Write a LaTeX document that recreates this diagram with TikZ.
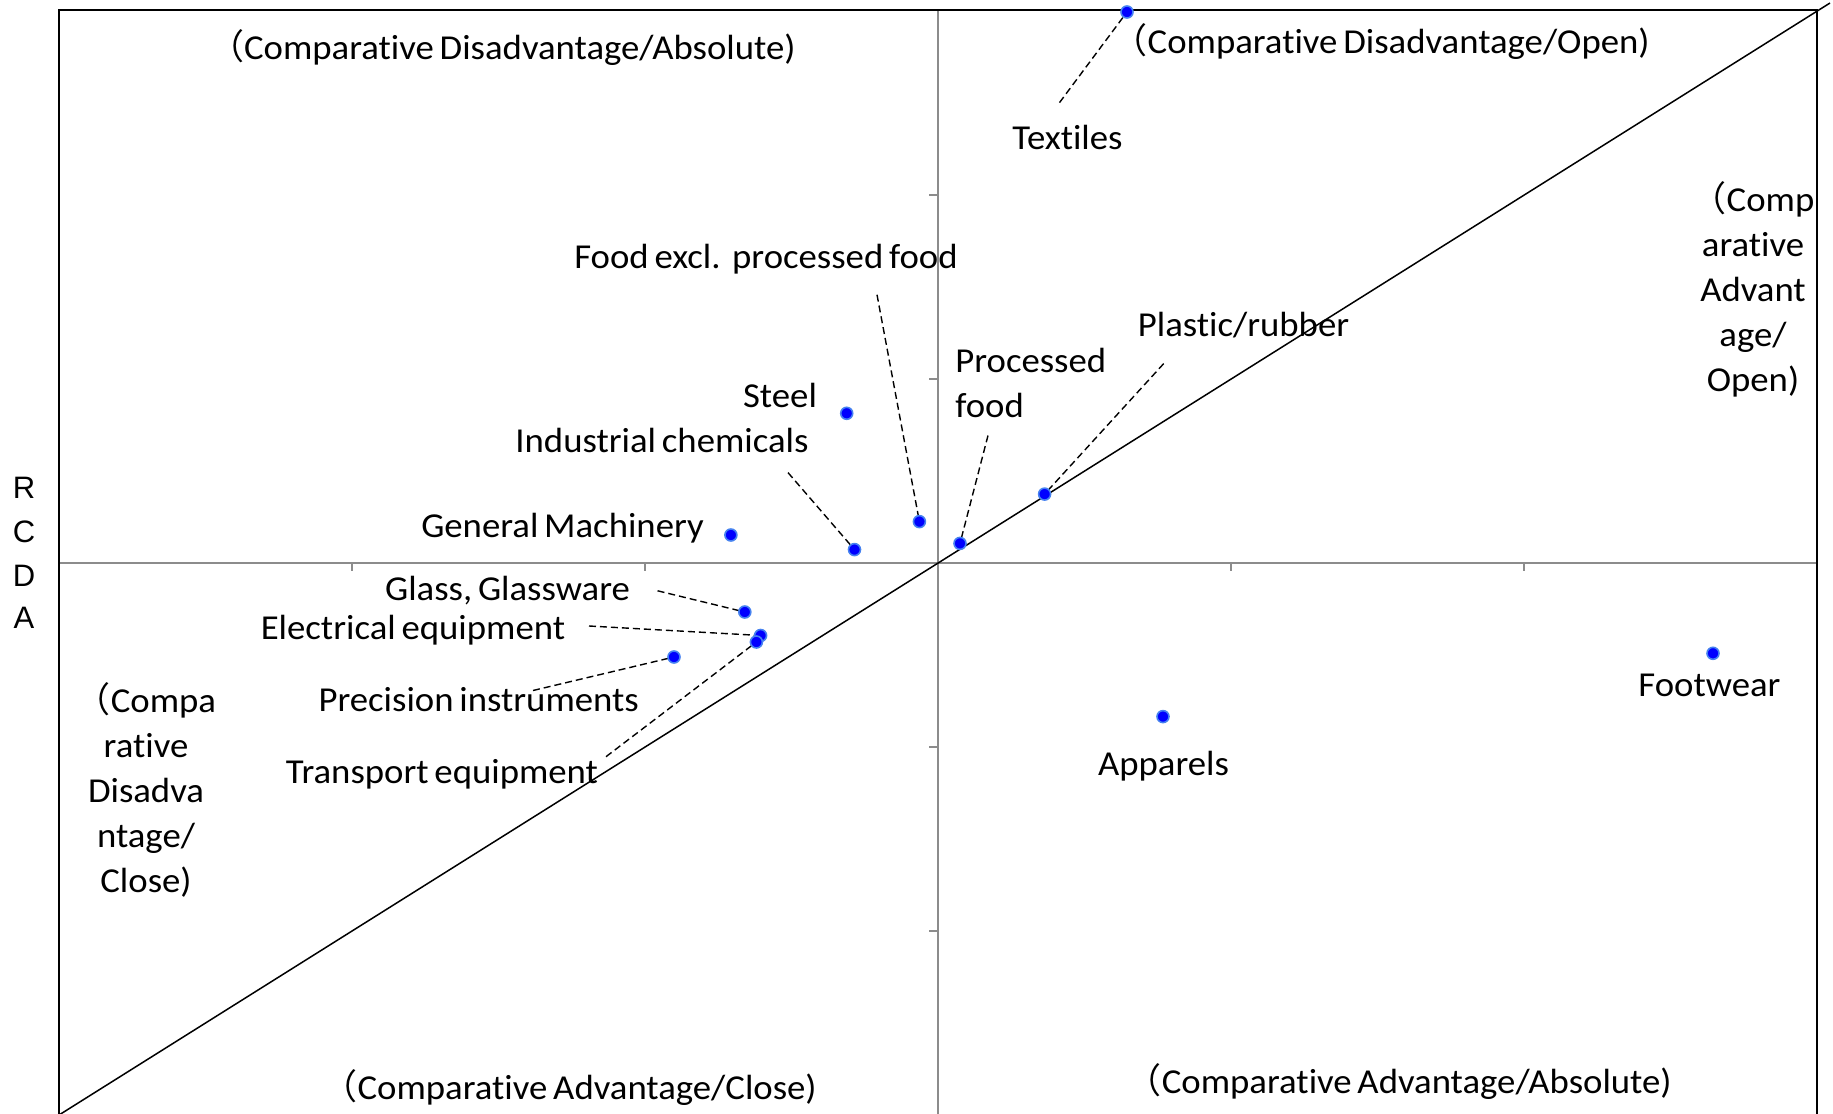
\documentclass[tikz,border=0pt]{standalone}
\usepackage{fontspec}
\setmainfont{Carlito}[Ligatures=NoCommon, FakeStretch=1.05, WordSpace=0.7]
\newfontfamily\cjk{Noto Sans CJK JP}
\newfontfamily\arialf{Liberation Sans}
\newcommand{\fwp}{{\cjk （}}
\definecolor{dotblue}{RGB}{0,0,255}
\definecolor{dotedge}{RGB}{70,130,240}
\definecolor{axisgray}{RGB}{140,140,140}
\tikzset{
  lbl/.style={inner sep=0pt, font=\fontsize{17.5}{22.5}\selectfont, anchor=base},
  mlbl/.style={inner sep=0pt, font=\fontsize{17.5}{22.5}\selectfont, align=center},
  axlbl/.style={inner sep=0pt, font=\arialf\fontsize{15.5}{18}\selectfont, anchor=base},
  dot/.style={circle, inner sep=0pt, minimum size=6pt, fill=dotblue, draw=dotedge, line width=0.8pt},
  leader/.style={draw=black, line width=0.7pt, dash pattern=on 3.5pt off 2pt},
  frame/.style={draw=black, line width=1pt},
  axisline/.style={draw=axisgray, line width=0.8pt},
  tick/.style={draw=axisgray, line width=0.6pt},
  diag/.style={draw=black, line width=0.75pt}
}
\begin{document}
\begin{tikzpicture}[x=0.5pt,y=-0.5pt]
\useasboundingbox (0,0) rectangle (1833,1114);
% axes
\draw[axisline] (59,563) -- (1817,563);
\draw[axisline] (938,10) -- (938,1116);
\foreach \k in {-2,-1,1,2} {
  \draw[tick] ({938+293*\k},563) -- ({938+293*\k},571);
  \draw[tick] (929,{563+184*\k}) -- (938,{563+184*\k});
}
% frame
\draw[frame] (59,1116) -- (59,10) -- (1817,10) -- (1817,1116);
% diagonal
\coordinate (dl) at (59,1115);
\coordinate (dr) at (1830,3);
\draw[diag] (dl) -- (dr);
% axis label
\node[axlbl] (lR) at (24,498) {R};
\node[axlbl] (lC) at (24,542) {C};
\node[axlbl] (lD) at (24,586) {D};
\node[axlbl] (lA) at (24,628) {A};
% quadrant labels
\node[lbl, anchor=base east] (qDA) at (796,59) {\fwp Comparative Disadvantage/Absolute)};
\node[lbl, anchor=base east] (qDO) at (1650,53) {\fwp Comparative Disadvantage/Open)};
\node[lbl, anchor=base east] (qAC) at (817,1099) {\fwp Comparative Advantage/Close)};
\node[lbl, anchor=base east] (qAA) at (1672,1093.5) {\fwp Comparative Advantage/Absolute)};
\node[mlbl] (qAO) at (1753,289.5) {\fwp Comp\\arative\\Advant\\age/\\Open)};
\node[mlbl] (qDC) at (146,789.5) {\fwp Compa\\rative\\Disadva\\ntage/\\Close)};
% item labels
\node[lbl] (tTex) at (1067.5,149.5) {Textiles};
\node[lbl] (tFood) at (766,268) {Food excl.\ \ processed food};
\node[lbl] (tSteel) at (780,407) {Steel};
\node[lbl] (tChem) at (662,452) {Industrial chemicals};
\node[lbl] (tMach) at (562.5,537) {General Machinery};
\node[mlbl, align=left, anchor=west] (tProc) at (955,383) {Processed\\food};
\node[lbl] (tPlas) at (1243.5,336) {Plastic/rubber};
\node[lbl] (tGlass) at (507.5,600) {Glass, Glassware};
\node[lbl] (tElec) at (413,639) {Electrical equipment};
\node[lbl] (tPrec) at (478.7,711) {Precision instruments};
\node[lbl] (tTrans) at (442,783) {Transport equipment};
\node[lbl] (tApp) at (1163.5,775) {Apparels};
\node[lbl] (tFoot) at (1709.5,696.5) {Footwear};
% leader free ends
\coordinate (eTex) at (1059.5,102.6);
\coordinate (eFood) at (877,294.7);
\coordinate (eChem) at (788,472.6);
\coordinate (eProc) at (988,435.5);
\coordinate (ePlas) at (1163.7,363.6);
\coordinate (eGlass) at (657.6,590.8);
\coordinate (eElec) at (589,626);
\coordinate (ePrec) at (533,690.5);
\coordinate (eTrans) at (606,756.7);
% dot positions
\coordinate (pTex) at (1127,12);
\coordinate (pFood) at (919.4,521.6);
\coordinate (pChem) at (854.5,549.6);
\coordinate (pProc) at (960,543.4);
\coordinate (pPlas) at (1044.6,494.1);
\coordinate (pGlass) at (744.8,612);
\coordinate (pElec) at (760.6,635.5);
\coordinate (pPrec) at (674,657);
\coordinate (pTrans) at (756.4,642);
% leaders
\draw[leader] (eTex) -- (pTex);
\draw[leader] (eFood) -- (pFood);
\draw[leader] (eChem) -- (pChem);
\draw[leader] (eProc) -- (pProc);
\draw[leader] (ePlas) -- (pPlas);
\draw[leader] (eGlass) -- (pGlass);
\draw[leader] (eElec) -- (pElec);
\draw[leader] (ePrec) -- (pPrec);
\draw[leader] (eTrans) -- (pTrans);
% dots
\node[dot] (dTex) at (pTex) {};
\node[dot] (dFood) at (pFood) {};
\node[dot] (dChem) at (pChem) {};
\node[dot] (dProc) at (pProc) {};
\node[dot] (dPlas) at (pPlas) {};
\node[dot] (dGlass) at (pGlass) {};
\node[dot] (dElec) at (pElec) {};
\node[dot] (dPrec) at (pPrec) {};
\node[dot] (dTrans) at (pTrans) {};
\node[dot] (dSteel) at (846.7,413.3) {};
\node[dot] (dMach) at (730.9,535) {};
\node[dot] (dApp) at (1163,716.6) {};
\node[dot] (dFoot) at (1713,653.3) {};
\end{tikzpicture}
\end{document}
